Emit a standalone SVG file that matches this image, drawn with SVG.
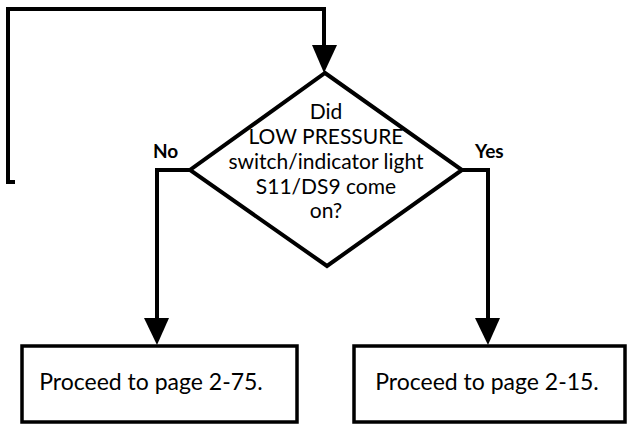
<svg xmlns="http://www.w3.org/2000/svg" width="629" height="425" viewBox="0 0 629 425">
<defs>
<style>
.ln{fill:none;stroke:#000;stroke-width:4;stroke-linejoin:miter;stroke-linecap:square}
.bx{fill:#fff;stroke:#000;stroke-width:3.5}
.t{font-family:Lato,"Liberation Sans",sans-serif;font-size:21px;fill:#000;text-anchor:middle}
.tb{font-family:Lato,"Liberation Sans",sans-serif;font-size:19px;font-weight:bold;fill:#000}
.ah{fill:#000}
</style>
</defs>
<rect width="629" height="425" fill="#fff"/>
<g id="connectors">
<path class="ln" d="M13,182 H8 V9 H324 V46"/>
<polygon class="ah" points="312,45 337,45 324,73"/>
<path class="ln" d="M190,170 H157 V318"/>
<polygon class="ah" points="144,318 169,318 157,345"/>
<path class="ln" d="M462,170 H488 V318"/>
<polygon class="ah" points="475,318 500,318 488,345"/>
</g>
<g id="decision">
<polygon points="325,73 462,170 327,266 190,170" fill="#fff" stroke="#000" stroke-width="4" stroke-linejoin="miter"/>
<text class="t" x="326" y="119">Did</text>
<text class="t" x="326" y="144">LOW PRESSURE</text>
<text class="t" x="326" y="169">switch/indicator light</text>
<text class="t" x="326" y="194">S11/DS9 come</text>
<text class="t" x="326" y="218">on?</text>
</g>
<g id="label-no"><text class="tb" x="153" y="158">No</text></g>
<g id="label-yes"><text class="tb" x="475" y="158">Yes</text></g>
<g id="box-left">
<rect class="bx" x="22" y="346" width="275" height="76"/>
<text class="t" x="151" y="390" style="font-size:23px">Proceed to page 2-75.</text>
</g>
<g id="box-right">
<rect class="bx" x="354" y="346" width="271" height="76"/>
<text class="t" x="487" y="390" style="font-size:23px">Proceed to page 2-15.</text>
</g>
</svg>
